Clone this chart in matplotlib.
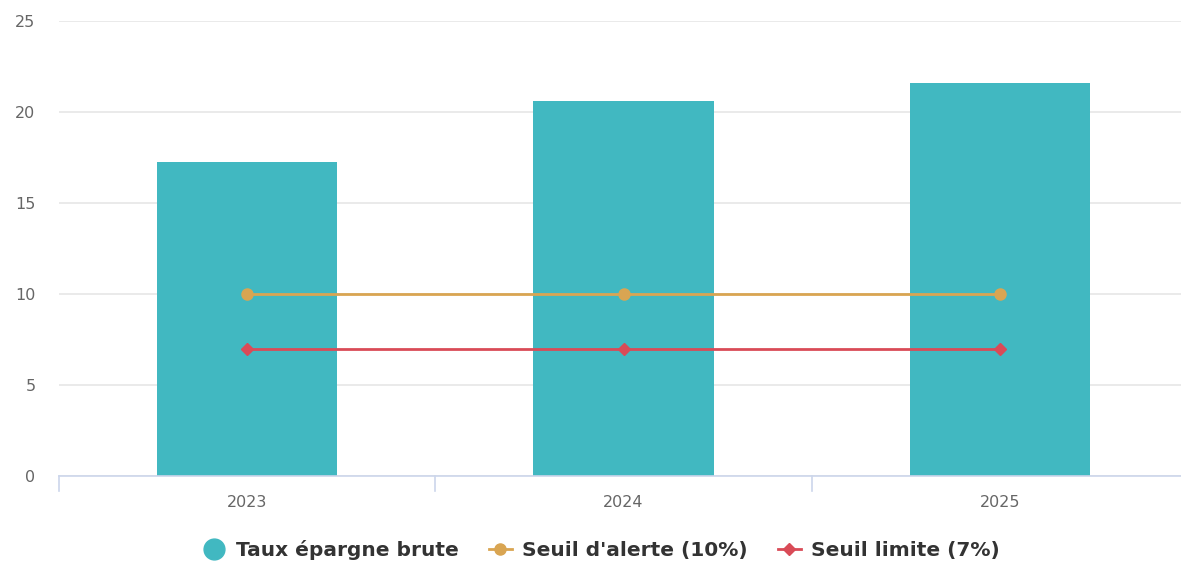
import matplotlib
matplotlib.use('Agg')
import matplotlib.pyplot as plt
from matplotlib.lines import Line2D
import numpy as np

# Data
years = ['2023', '2024', '2025']
taux_epargne = [17.25, 20.6, 21.6]
seuil_alerte = [10, 10, 10]
seuil_limite = [7, 7, 7]

bar_color = '#41b8c1'
alerte_color = '#d9a552'
limite_color = '#d94b57'
grid_color = '#e6e6e6'
axis_color = '#ccd6eb'
text_color = '#666666'

fig = plt.figure(figsize=(11.81, 5.63), dpi=100)
ax = fig.add_axes([59 / 1181, 1 - 476 / 563, (1188 - 59) / 1181, (476 - 21) / 563])

x = np.arange(len(years))
ax.bar(x, taux_epargne, width=0.48, color=bar_color, zorder=2)
ax.plot(x, seuil_alerte, color=alerte_color, lw=2, marker='o', ms=8, zorder=3)
ax.plot(x, seuil_limite, color=limite_color, lw=2, marker='D', ms=6, zorder=3)

ax.set_xlim(-0.5, 2.5)
ax.set_ylim(0, 25)
ax.set_yticks([0, 5, 10, 15, 20, 25])
ax.yaxis.grid(True, color=grid_color, lw=1.2, zorder=0)
ax.set_axisbelow(True)

for side in ['top', 'right', 'left']:
    ax.spines[side].set_visible(False)
ax.spines['bottom'].set_color(axis_color)
ax.spines['bottom'].set_linewidth(1.2)

ax.tick_params(axis='y', length=0, pad=17, labelsize=11.5, labelcolor=text_color)
ax.set_xticks(x)
ax.set_xticklabels(years)
ax.tick_params(axis='x', length=0, pad=14, labelsize=11.5, labelcolor=text_color)

# category boundary ticks
for b in [-0.5, 0.5, 1.5, 2.5]:
    ax.plot([b, b], [0, -0.8], color=axis_color, lw=1.2, clip_on=False)

handles = [
    Line2D([], [], color=bar_color, marker='o', ms=15, lw=0),
    Line2D([], [], color=alerte_color, marker='o', ms=8, lw=2),
    Line2D([], [], color=limite_color, marker='D', ms=6, lw=2),
]
labels = ['Taux épargne brute', "Seuil d'alerte (10%)", 'Seuil limite (7%)']
leg = fig.legend(handles, labels, loc='center', bbox_to_anchor=(0.509, 1 - 550 / 563),
                 ncol=3, frameon=False, fontsize=14.5, handlelength=1.15,
                 columnspacing=1.5, handletextpad=0.5)
for t in leg.get_texts():
    t.set_fontweight('bold')
    t.set_color('#333333')

fig.savefig('out.png', dpi=100)
